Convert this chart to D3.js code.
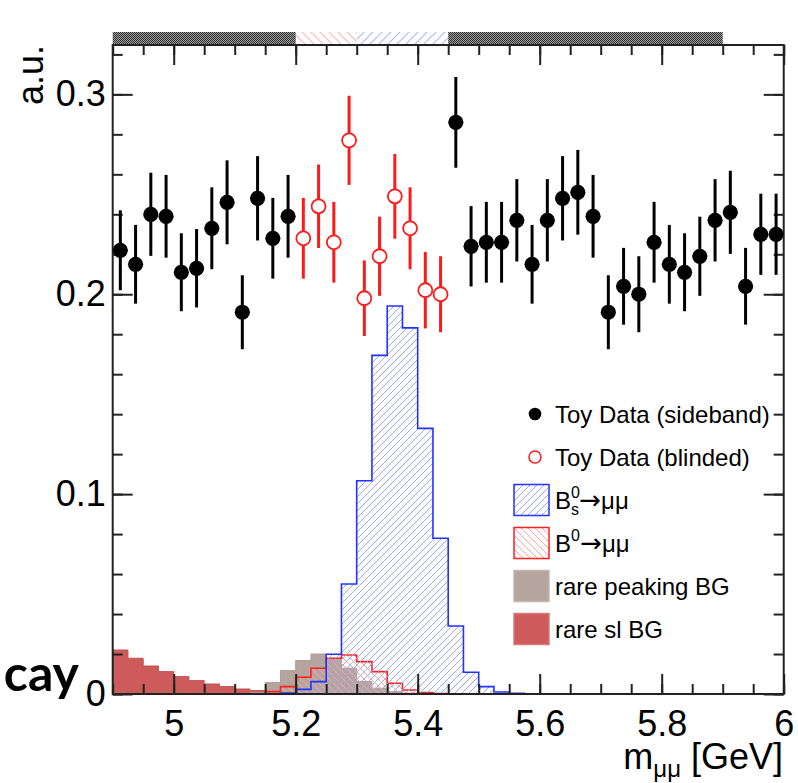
<!DOCTYPE html>
<html>
<head>
<meta charset="utf-8">
<script src="https://d3js.org/d3.v7.min.js"></script>
<style>
  body { margin: 0; background: #fff; }
  svg { display: block; font-family: "Liberation Sans", Arial, Helvetica, sans-serif; }
</style>
</head>
<body>
<svg></svg>
<script>
// Toy B(s) -> mu mu mass spectrum: sideband / blinded toy data plus signal and background shapes

const width = 798;
const height = 783;
const frame = { left: 112.7, right: 783.7, top: 45, bottom: 694 };

// 44 bins of 25 MeV from 4.9 to 6.0 GeV
const binWidth = 0.025;
const binLow = d3.range(44).map((i) => +(4.9 + i * binWidth).toFixed(3));

// toy data per bin (a.u.) and its error
const toyData = [
  0.222, 0.215, 0.240, 0.239, 0.211, 0.213, 0.233, 0.246, 0.191, 0.248, 0.228, 0.239,
  0.228, 0.244, 0.226, 0.277, 0.198, 0.219, 0.249, 0.233, 0.202, 0.200,
  0.286, 0.224, 0.226, 0.226, 0.237, 0.215, 0.237, 0.248, 0.251, 0.239, 0.191, 0.204,
  0.200, 0.226, 0.215, 0.211, 0.219, 0.237, 0.241, 0.204, 0.230, 0.230,
];
const toyErr = [
  0.0200, 0.0197, 0.0208, 0.0207, 0.0195, 0.0196, 0.0205, 0.0210, 0.0185, 0.0211, 0.0202, 0.0207,
  0.0202, 0.0209, 0.0202, 0.0223, 0.0189, 0.0198, 0.0212, 0.0205, 0.0191, 0.0190,
  0.0227, 0.0201, 0.0202, 0.0202, 0.0206, 0.0197, 0.0206, 0.0211, 0.0212, 0.0207, 0.0185, 0.0192,
  0.0190, 0.0202, 0.0197, 0.0195, 0.0198, 0.0206, 0.0208, 0.0192, 0.0203, 0.0203,
];

// blinded signal window and the top-band regions (GeV)
const blindWindow = [5.2, 5.45];
const sidebands = [[4.9, 5.2], [5.45, 5.9]];
const b0Window = [5.2, 5.3];
const bsWindow = [5.3, 5.45];

// histogram shapes per bin
const bsHist = [
  0, 0, 0, 0, 0, 0, 0, 0, 0, 0, 0, 0.0005,
  0.0023, 0.0062, 0.0199, 0.0550, 0.1067, 0.1694, 0.1941, 0.1832, 0.1329, 0.0779,
  0.0340, 0.0109, 0.0037, 0.0010, 0.0003, 0, 0, 0, 0, 0, 0, 0,
  0, 0, 0, 0, 0, 0, 0, 0, 0, 0,
];
const b0Hist = [
  0, 0, 0, 0, 0, 0, 0, 0, 0, 0, 0.0012, 0.0037,
  0.0084, 0.0129, 0.0179, 0.0195, 0.0162, 0.0112, 0.0054, 0.0020, 0.0007, 0.0002,
  0, 0, 0, 0, 0, 0, 0, 0, 0, 0, 0, 0,
  0, 0, 0, 0, 0, 0, 0, 0, 0, 0,
];
const peakingBG = [
  0, 0, 0, 0, 0, 0, 0, 0, 0, 0.0008, 0.0058, 0.0117,
  0.0167, 0.0200, 0.0174, 0.0129, 0.0062, 0.0029, 0.0012, 0.0004, 0, 0,
  0, 0, 0, 0, 0, 0, 0, 0, 0, 0, 0, 0,
  0, 0, 0, 0, 0, 0, 0, 0, 0, 0,
];
const slBG = [
  0.0220, 0.0179, 0.0140, 0.0112, 0.0087, 0.0067, 0.0050, 0.0037, 0.0025, 0.0017, 0.0011, 0.0007,
  0.0004, 0.0002, 0, 0, 0, 0, 0, 0, 0, 0,
  0, 0, 0, 0, 0, 0, 0, 0, 0, 0, 0, 0,
  0, 0, 0, 0, 0, 0, 0, 0, 0, 0,
];

const xTicks = [5, 5.2, 5.4, 5.6, 5.8, 6];
const yTicks = [0, 0.1, 0.2, 0.3];
const legendLabels = [
  "Toy Data (sideband)",
  "Toy Data (blinded)",
  "Bs0",
  "B0",
  "rare peaking BG",
  "rare sl BG",
];

const svg = d3.select("svg").attr("width", width).attr("height", height);

const x = d3.scaleLinear().domain([4.9, 6.0]).range([frame.left, frame.right]);
const y = d3.scaleLinear().domain([0, 0.3247]).range([frame.bottom, frame.top]);

// ---- patterns
const defs = svg.append("defs");

const hatch = (id, color, size, up, sw) => {
  const s = size;
  const d = up
    ? `M0,${s} L${s},0 M${-s / 2},${s / 2} L${s / 2},${-s / 2} M${s / 2},${s * 1.5} L${s * 1.5},${s / 2}`
    : `M0,0 L${s},${s} M${-s / 2},${s / 2} L${s / 2},${s * 1.5} M${s / 2},${-s / 2} L${s * 1.5},${s / 2}`;
  defs
    .append("pattern")
    .attr("id", id)
    .attr("patternUnits", "userSpaceOnUse")
    .attr("width", s)
    .attr("height", s)
    .append("path")
    .attr("d", d)
    .attr("stroke", color)
    .attr("stroke-width", sw)
    .attr("fill", "none");
};
hatch("bsHatch", "#9ea8f3", 7, true, 1);
hatch("b0Hatch", "#ffa3a3", 7, false, 1);
hatch("bandBlue", "#b3b9fb", 9, true, 1.2);
hatch("bandPink", "#ffb6b6", 9, false, 1.2);

const checker = defs
  .append("pattern")
  .attr("id", "checker")
  .attr("patternUnits", "userSpaceOnUse")
  .attr("width", 2)
  .attr("height", 2);
checker.append("rect").attr("width", 2).attr("height", 2).attr("fill", "#a0a0a0");
checker.append("rect").attr("width", 1).attr("height", 1).attr("fill", "#2e2e2e");
checker.append("rect").attr("x", 1).attr("y", 1).attr("width", 1).attr("height", 1).attr("fill", "#2e2e2e");

// ---- top band showing sidebands and signal windows
const bandTop = frame.top - 13;
const band = svg.append("g");
band
  .selectAll("rect.side")
  .data(sidebands)
  .enter()
  .append("rect")
  .attr("class", "side")
  .attr("x", (d) => x(d[0]))
  .attr("width", (d) => x(d[1]) - x(d[0]))
  .attr("y", bandTop)
  .attr("height", frame.top - bandTop)
  .attr("fill", "url(#checker)");
band
  .append("rect")
  .attr("x", x(b0Window[0]))
  .attr("width", x(b0Window[1]) - x(b0Window[0]))
  .attr("y", bandTop)
  .attr("height", frame.top - bandTop)
  .attr("fill", "url(#bandPink)");
band
  .append("rect")
  .attr("x", x(bsWindow[0]))
  .attr("width", x(bsWindow[1]) - x(bsWindow[0]))
  .attr("y", bandTop)
  .attr("height", frame.top - bandTop)
  .attr("fill", "url(#bandBlue)");

// ---- histograms
const stepPoints = (values) => {
  const nz = values.map((v, i) => (v > 0 ? i : -1)).filter((i) => i >= 0);
  const i0 = nz[0];
  const i1 = nz[nz.length - 1];
  const pts = [[binLow[i0], 0]];
  for (let i = i0; i <= i1; i++) {
    pts.push([binLow[i], values[i]]);
    pts.push([binLow[i] + binWidth, values[i]]);
  }
  pts.push([binLow[i1] + binWidth, 0]);
  return pts;
};

const histLine = d3
  .line()
  .x((d) => x(d[0]))
  .y((d) => y(d[1]));

const drawHist = (values, fill, stroke, sw) => {
  return svg
    .append("path")
    .attr("d", histLine(stepPoints(values)) + "Z")
    .attr("fill", fill)
    .attr("stroke", stroke)
    .attr("stroke-width", sw)
    .attr("stroke-linejoin", "miter");
};

drawHist(slBG, "#cd5b5b", "#c65252", 1);
drawHist(peakingBG, "#b6a59f", "#ad9c96", 1);
drawHist(b0Hist, "url(#b0Hatch)", "#ff1f1f", 1.6);
drawHist(bsHist, "url(#bsHatch)", "#2233ff", 1.6);

// ---- axes
const minorX = d3.range(23).map((i) => +(4.9 + i * 0.05).toFixed(2));
const minorY = d3.range(17).map((i) => +(i * 0.02).toFixed(2));

const styleAxis = (g) => {
  g.select(".domain").remove();
  g.selectAll(".tick line").attr("stroke", "#222").attr("stroke-width", 2);
  g.selectAll("text")
    .attr("fill", "#000")
    .attr("font-size", 36)
    .attr("font-family", '"Liberation Sans", Arial, sans-serif');
};

svg
  .append("g")
  .attr("transform", `translate(0,${frame.bottom})`)
  .call(d3.axisBottom(x).tickValues(minorX).tickSize(-10).tickFormat(""))
  .call(styleAxis);
svg
  .append("g")
  .attr("id", "x-axis")
  .attr("transform", `translate(0,${frame.bottom})`)
  .call(d3.axisBottom(x).tickValues(xTicks).tickSize(-20).tickPadding(16).tickFormat(d3.format("")))
  .call(styleAxis);
svg
  .append("g")
  .attr("transform", `translate(0,${frame.top})`)
  .call(d3.axisTop(x).tickValues(minorX).tickSize(-10).tickFormat(""))
  .call(styleAxis);
svg
  .append("g")
  .attr("transform", `translate(0,${frame.top})`)
  .call(d3.axisTop(x).tickValues(xTicks).tickSize(-20).tickFormat(""))
  .call(styleAxis);

svg
  .append("g")
  .attr("transform", `translate(${frame.left},0)`)
  .call(d3.axisLeft(y).tickValues(minorY).tickSize(-10).tickFormat(""))
  .call(styleAxis);
svg
  .append("g")
  .attr("id", "y-axis")
  .attr("transform", `translate(${frame.left},0)`)
  .call(d3.axisLeft(y).tickValues(yTicks).tickSize(-20).tickPadding(7).tickFormat(d3.format("")))
  .call(styleAxis);
svg
  .append("g")
  .attr("transform", `translate(${frame.right},0)`)
  .call(d3.axisRight(y).tickValues(minorY).tickSize(-10).tickFormat(""))
  .call(styleAxis);
svg
  .append("g")
  .attr("transform", `translate(${frame.right},0)`)
  .call(d3.axisRight(y).tickValues(yTicks).tickSize(-20).tickFormat(""))
  .call(styleAxis);

svg
  .append("rect")
  .attr("x", frame.left)
  .attr("y", frame.top)
  .attr("width", frame.right - frame.left)
  .attr("height", frame.bottom - frame.top)
  .attr("fill", "none")
  .attr("stroke", "#222")
  .attr("stroke-width", 2);

// ---- toy data points
const points = toyData.map((v, i) => {
  const m = binLow[i] + binWidth / 2;
  return { m, v, e: toyErr[i], blind: m > blindWindow[0] && m < blindWindow[1] };
});

const pts = svg.append("g");
pts
  .selectAll("line")
  .data(points)
  .enter()
  .append("line")
  .attr("x1", (d) => x(d.m))
  .attr("x2", (d) => x(d.m))
  .attr("y1", (d) => y(d.v - d.e))
  .attr("y2", (d) => y(d.v + d.e))
  .attr("stroke", (d) => (d.blind ? "#ff1a1a" : "#000"))
  .attr("stroke-width", 3);
pts
  .selectAll("circle")
  .data(points)
  .enter()
  .append("circle")
  .attr("cx", (d) => x(d.m))
  .attr("cy", (d) => y(d.v))
  .attr("r", (d) => (d.blind ? 7 : 7.6))
  .attr("fill", (d) => (d.blind ? "#fff" : "#000"))
  .attr("stroke", (d) => (d.blind ? "#ff1a1a" : "none"))
  .attr("stroke-width", 1.8);

// ---- legend
const legend = svg.append("g").attr("font-size", 24).attr("fill", "#000");
const rowY = (i) => 414 + i * 43;
const boxX = 514;
const textX = 555;

legendLabels.forEach((label, i) => {
  const cy = rowY(i);
  if (i === 0) {
    legend.append("circle").attr("cx", 535).attr("cy", cy).attr("r", 6.3).attr("fill", "#000");
  } else if (i === 1) {
    legend
      .append("circle")
      .attr("cx", 535)
      .attr("cy", cy)
      .attr("r", 6)
      .attr("fill", "#fff")
      .attr("stroke", "#ff1a1a")
      .attr("stroke-width", 1.5);
  } else {
    const fills = { 2: "url(#bsHatch)", 3: "url(#b0Hatch)", 4: "#b6a59f", 5: "#cd5b5b" };
    const strokes = { 2: "#2233ff", 3: "#ff1f1f", 4: "#c4b6b1", 5: "#d77a7a" };
    legend
      .append("rect")
      .attr("x", boxX)
      .attr("y", cy - 15.5)
      .attr("width", 35)
      .attr("height", 31)
      .attr("fill", fills[i])
      .attr("stroke", strokes[i])
      .attr("stroke-width", 1.5);
  }

  const t = legend.append("text").attr("x", textX).attr("y", cy + 8.5);
  const arrow = (sel) =>
    sel.append("tspan").attr("font-family", "'DejaVu Sans', sans-serif").attr("font-size", 26).text("\u2192");
  if (i === 2) {
    t.append("tspan").text("B");
    t.append("tspan").attr("font-size", 16).attr("dy", -11).text("0");
    t.append("tspan").attr("font-size", 16).attr("dx", -8.9).attr("dy", 17).text("s");
    t.append("tspan").attr("dy", -6).attr("font-size", 1).text(" ");
    arrow(t);
    t.append("tspan").text("\u03bc\u03bc");
  } else if (i === 3) {
    t.append("tspan").text("B");
    t.append("tspan").attr("font-size", 16).attr("dy", -11).text("0");
    t.append("tspan").attr("dy", 11).attr("font-size", 1).text(" ");
    arrow(t);
    t.append("tspan").text("\u03bc\u03bc");
  } else {
    t.text(label);
  }
});

// ---- axis titles
svg
  .append("text")
  .attr("transform", `translate(43,${frame.top}) rotate(-90)`)
  .attr("text-anchor", "end")
  .attr("font-size", 36)
  .text("a.u.");

const xTitle = svg
  .append("text")
  .attr("x", 783)
  .attr("y", 769)
  .attr("text-anchor", "end")
  .attr("font-size", 36);
xTitle.append("tspan").text("m");
xTitle.append("tspan").attr("font-size", 24).attr("dy", 8).text("\u03bc\u03bc");
xTitle.append("tspan").attr("dy", -8).text(" [GeV]");

// stray slide text at the left edge
svg
  .append("text")
  .attr("x", 79)
  .attr("y", 691)
  .attr("text-anchor", "end")
  .attr("font-family", "Lato, 'Open Sans', sans-serif")
  .attr("font-weight", "bold")
  .attr("font-size", 50)
  .text("cay");
</script>
</body>
</html>
